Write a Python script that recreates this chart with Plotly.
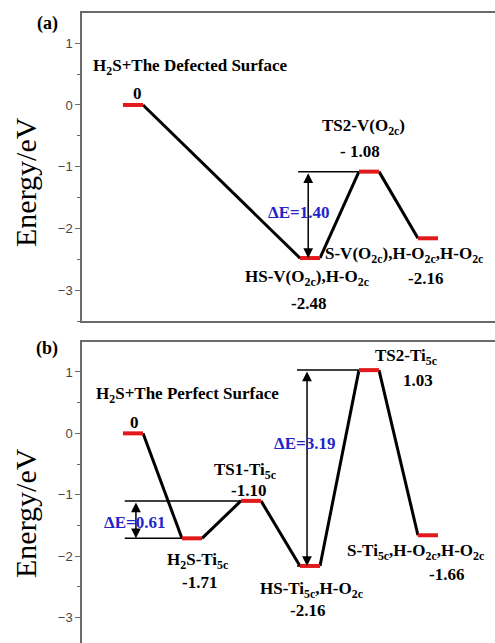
import plotly.graph_objects as go

# ---------------- data ----------------
# Panel (a): defected surface
a_pos = [1, 4, 5, 6]
a_energy = [0.0, -2.48, -1.08, -2.16]
a_names = ["H<sub>2</sub>S+The Defected Surface", "HS-V(O<sub>2c</sub>),H-O<sub>2c</sub>",
           "TS2-V(O<sub>2c</sub>)", "S-V(O<sub>2c</sub>),H-O<sub>2c</sub>,H-O<sub>2c</sub>"]
a_values = ["0", "-2.48", "- 1.08", "-2.16"]

# Panel (b): perfect surface
b_pos = [1, 2, 3, 4, 5, 6]
b_energy = [0.0, -1.71, -1.10, -2.16, 1.03, -1.66]
b_names = ["H<sub>2</sub>S+The Perfect Surface", "H<sub>2</sub>S-Ti<sub>5c</sub>", "TS1-Ti<sub>5c</sub>",
           "HS-Ti<sub>5c</sub>,H-O<sub>2c</sub>", "TS2-Ti<sub>5c</sub>",
           "S-Ti<sub>5c</sub>,H-O<sub>2c</sub>,H-O<sub>2c</sub>"]
b_values = ["0", "-1.71", "-1.10", "-2.16", "1.03", "-1.66"]

y_ticks = [-3, -2, -1, 0, 1]

# barriers: (low index, high index)
a_barriers = [(1, 2)]
b_barriers = [(1, 2), (3, 4)]

# ---------------- layout helpers ----------------
HW = 0.17          # half width of an energy level
SERIF = "Liberation Serif"
RED = "#e31a1c"
BLUE = "#2424c8"
AXC = "#6a6a6a"
LBL = 17

# label placement (data coords): name (x, y, anchor), value (x, y)
a_name_pos = [(1.98, 0.62, "center"), (3.95, -2.80, "center"), (4.90, -0.36, "center"), (4.22, -2.43, "left")]
a_val_pos = [(1.07, 0.19), (3.97, -3.21), (4.85, -0.76), (5.95, -2.81)]
b_name_pos = [(1.93, 0.62, "center"), (2.10, -2.08, "center"), (2.90, -0.62, "center"),
              (4.02, -2.55, "center"), (5.63, 1.24, "center"), (4.59, -1.93, "left")]
b_val_pos = [(1.03, 0.18), (2.12, -2.43), (2.95, -0.93), (3.95, -2.88), (5.83, 0.86), (6.32, -2.30)]
# barrier arrow: (arrow x, line start x, label x, label y)
a_bar_geom = [(3.97, 3.80, 3.80, -1.75)]
b_bar_geom = [((1.05, 0.86, 1.02, -1.45)), (3.95, 3.78, 3.90, -0.16)]

fig = go.Figure()
annotations = []
shapes = []


def draw_panel(pos, energy, names, values, name_pos, val_pos, barriers, bar_geom, xa, ya):
    xref, yref = xa, ya
    # connectors
    for i in range(len(pos) - 1):
        fig.add_trace(go.Scatter(x=[pos[i] + HW, pos[i + 1] - HW], y=[energy[i], energy[i + 1]],
                                 mode="lines", line=dict(color="black", width=3),
                                 xaxis=xa, yaxis=ya, showlegend=False, hoverinfo="skip"))
    # levels
    for p, e in zip(pos, energy):
        fig.add_trace(go.Scatter(x=[p - HW, p + HW], y=[e, e], mode="lines",
                                 line=dict(color=RED, width=4),
                                 xaxis=xa, yaxis=ya, showlegend=False, hoverinfo="skip"))
    # labels
    for (nx, ny, anc), name in zip(name_pos, names):
        annotations.append(dict(x=nx, y=ny, xref=xref, yref=yref, text="<b>" + name + "</b>",
                                showarrow=False, xanchor=anc, yanchor="middle",
                                font=dict(family=SERIF, size=LBL, color="black")))
    for (vx, vy), v in zip(val_pos, values):
        annotations.append(dict(x=vx, y=vy, xref=xref, yref=yref, text="<b>" + v + "</b>",
                                showarrow=False, xanchor="center", yanchor="middle",
                                font=dict(family=SERIF, size=LBL, color="black")))
    # barriers
    for (lo, hi), (axx, lx0, tx, ty) in zip(barriers, bar_geom):
        e_lo, e_hi = energy[lo], energy[hi]
        shapes.append(dict(type="line", xref=xref, yref=yref, x0=lx0, x1=pos[hi] - HW,
                           y0=e_hi, y1=e_hi, line=dict(color="black", width=1.5)))
        if lx0 < pos[lo] - HW:
            shapes.append(dict(type="line", xref=xref, yref=yref, x0=lx0, x1=pos[lo] - HW,
                               y0=e_lo, y1=e_lo, line=dict(color="black", width=1.5)))
        annotations.append(dict(x=axx, y=e_lo, ax=axx, ay=e_hi, xref=xref, yref=yref,
                                axref=xref, ayref=yref, text="", showarrow=True,
                                arrowside="end+start", arrowhead=2, arrowsize=1.3,
                                arrowwidth=1.5, arrowcolor="black", standoff=0, startstandoff=0))
        annotations.append(dict(x=tx, y=ty, xref=xref, yref=yref, xanchor="center", yanchor="middle",
                                text="<b>\u0394E=%.2f</b>" % (e_hi - e_lo), showarrow=False,
                                font=dict(family=SERIF, size=LBL, color=BLUE)))


draw_panel(a_pos, a_energy, a_names, a_values, a_name_pos, a_val_pos, a_barriers, a_bar_geom, "x", "y")
draw_panel(b_pos, b_energy, b_names, b_values, b_name_pos, b_val_pos, b_barriers, b_bar_geom, "x2", "y2")

W, H = 495, 643
xdom = [82 / W, 1.0]
a_dom = [1 - 321 / H, 1 - 13 / H]
b_dom = [0.0, 1 - 342 / H]

yax_common = dict(showline=True, linecolor=AXC, linewidth=1.5, ticks="outside", ticklen=5,
                  tickwidth=1.2, tickcolor=AXC, tickvals=y_ticks, showgrid=False, zeroline=False,
                  automargin=False,
                  tickfont=dict(family="Liberation Sans", size=13, color="#444444"),
                  minor=dict(ticks="outside", ticklen=3, tickcolor=AXC, dtick=0.5, showgrid=False))
xax_common = dict(domain=xdom, range=[0.136, 7.136], showline=True, linecolor=AXC, linewidth=1.5,
                  showticklabels=False, ticks="", showgrid=False, zeroline=False, automargin=False)

fig.update_layout(
    width=W, height=H, margin=dict(l=0, r=0, t=0, b=0),
    paper_bgcolor="white", plot_bgcolor="white",
    xaxis=dict(anchor="y", mirror=True, **xax_common),
    yaxis=dict(domain=a_dom, range=[-3.50, 1.49], anchor="x", **yax_common),
    xaxis2=dict(anchor="y2", side="top", **xax_common),
    yaxis2=dict(domain=b_dom, range=[-3.415, 1.488], anchor="x2", **yax_common),
    showlegend=False,
)

# panel letters and axis titles
for letter, yc in [("(a)", 1 - 23 / H), ("(b)", 1 - 348 / H)]:
    annotations.append(dict(x=47 / W, y=yc, xref="paper", yref="paper", text="<b>" + letter + "</b>",
                            xanchor="center", yanchor="middle", showarrow=False,
                            font=dict(family=SERIF, size=18, color="black")))
for yc in [1 - 182 / H, 1 - 513 / H]:
    annotations.append(dict(x=25 / W, y=yc, xref="paper", yref="paper", text="Energy/eV",
                            xanchor="center", yanchor="middle", textangle=-90, showarrow=False,
                            font=dict(family=SERIF, size=30, color="black")))

fig.update_layout(annotations=annotations, shapes=shapes)
fig.write_html("out.html")
